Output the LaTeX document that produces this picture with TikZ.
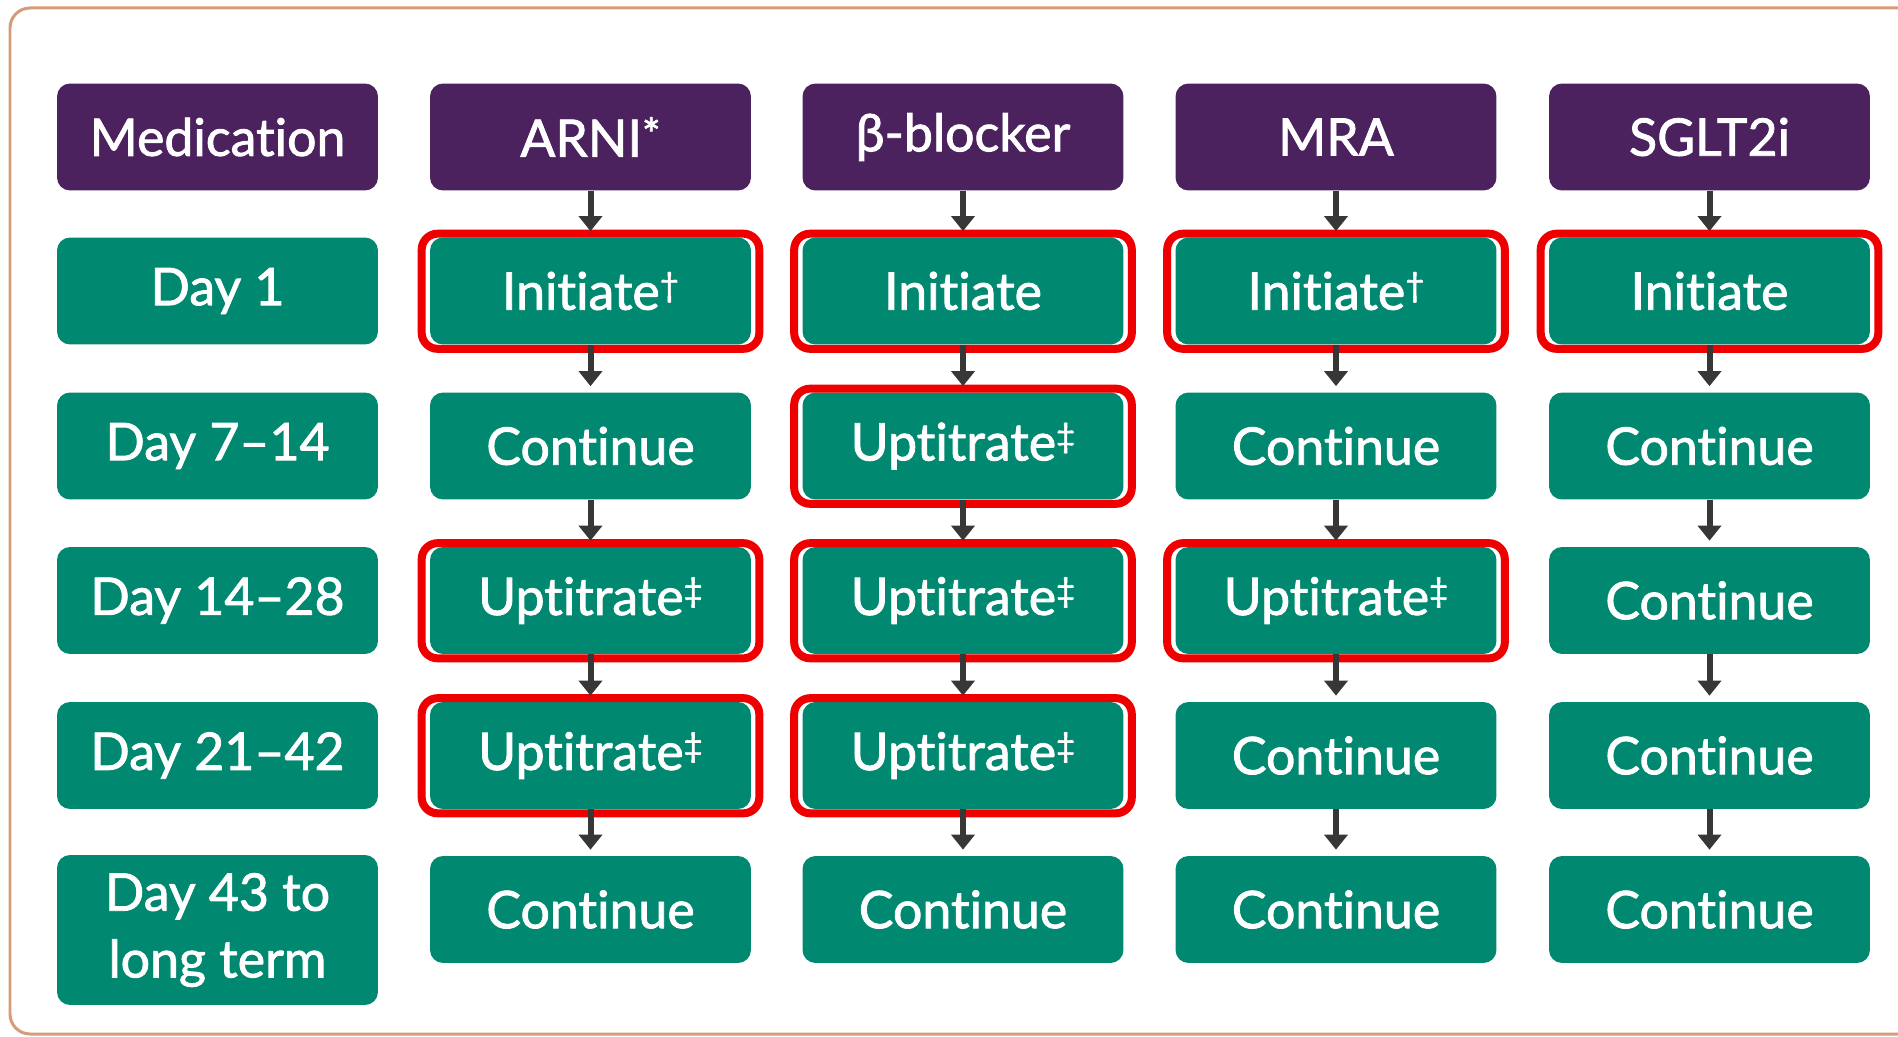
\documentclass[tikz,border=0pt]{standalone}
\usepackage{fontspec}
\setmainfont{Lato}
\newfontfamily\cellfont{Lato}[FakeBold=1.6, Ligatures=NoCommon]
\usetikzlibrary{arrows.meta,calc}
\definecolor{medpurple}{RGB}{75,33,94}
\definecolor{stepgreen}{RGB}{0,136,112}
\definecolor{hired}{RGB}{238,0,0}
\definecolor{framebrown}{RGB}{214,155,120}
\definecolor{arrowgray}{RGB}{55,55,55}
\newcommand\fnmark[1]{\raisebox{0.5ex}{\fontsize{19}{19}\selectfont#1}}
\newcommand\starmark{\raisebox{0.25ex}{\fontsize{25}{25}\selectfont*}}
\tikzset{%
  cell/.style     = {shape=rectangle, rounded corners=0.26cm, align=center,%
                     minimum width=6.42cm, minimum height=2.14cm, inner sep=0pt,%
                     text=white, font=\cellfont\fontsize{29.5}{38}\selectfont},%
  head/.style     = {cell, fill=medpurple},%
  stepcell/.style = {cell, fill=stepgreen},%
  flow/.style     = {draw=arrowgray, line width=0.12cm, shorten >=0.12cm,%
                     -{Triangle[width=0.46cm,length=0.3cm]}},%
  hilite/.style   = {draw=hired, line width=0.16cm, rounded corners=0.32cm}%
}
\begin{document}
\begin{tikzpicture}[x=0.02cm, y=-0.02cm]
	\useasboundingbox (0,0) rectangle (1898,1037);
	\begin{scope}
	\clip (0,0) rectangle (1898,1037);
	\draw[framebrown, line width=0.06cm, rounded corners=0.4cm]
		(10,8) rectangle (1930,1034);
	\end{scope}
	% header row
	\node[head] (lbl0)  at (217.5,137) {Medication};
	\node[head] (arni0) at (590.5,137) {ARNI\starmark};
	\node[head] (beta0) at (963,137)   {β-blocker};
	\node[head] (mra0)  at (1336,137)  {MRA};
	\node[head] (sglt0) at (1709.5,137) {SGLT2i};
	% day 1
	\node[stepcell] (lbl1)  at (217.5,291) {Day 1};
	\node[stepcell] (arni1) at (590.5,291) {Initiate\fnmark{†}};
	\node[stepcell] (beta1) at (963,291)   {Initiate};
	\node[stepcell] (mra1)  at (1336,291)  {Initiate\fnmark{†}};
	\node[stepcell] (sglt1) at (1709.5,291) {Initiate};
	% day 7--14
	\node[stepcell] (lbl2)  at (217.5,446) {Day 7–14};
	\node[stepcell] (arni2) at (590.5,446) {Continue};
	\node[stepcell] (beta2) at (963,446)   {Uptitrate\fnmark{‡}};
	\node[stepcell] (mra2)  at (1336,446)  {Continue};
	\node[stepcell] (sglt2) at (1709.5,446) {Continue};
	% day 14--28
	\node[stepcell] (lbl3)  at (217.5,600.5) {Day 14–28};
	\node[stepcell] (arni3) at (590.5,600.5) {Uptitrate\fnmark{‡}};
	\node[stepcell] (beta3) at (963,600.5)   {Uptitrate\fnmark{‡}};
	\node[stepcell] (mra3)  at (1336,600.5)  {Uptitrate\fnmark{‡}};
	\node[stepcell] (sglt3) at (1709.5,600.5) {Continue};
	% day 21--42
	\node[stepcell] (lbl4)  at (217.5,755.5) {Day 21–42};
	\node[stepcell] (arni4) at (590.5,755.5) {Uptitrate\fnmark{‡}};
	\node[stepcell] (beta4) at (963,755.5)   {Uptitrate\fnmark{‡}};
	\node[stepcell] (mra4)  at (1336,755.5)  {Continue};
	\node[stepcell] (sglt4) at (1709.5,755.5) {Continue};
	% day 43 on
	\node[stepcell, minimum height=3cm] (lbl5) at (217.5,930) {Day 43 to\\long term};
	\node[stepcell] (arni5) at (590.5,909.5) {Continue};
	\node[stepcell] (beta5) at (963,909.5)   {Continue};
	\node[stepcell] (mra5)  at (1336,909.5)  {Continue};
	\node[stepcell] (sglt5) at (1709.5,909.5) {Continue};
	% red marks
	\foreach \n in {arni1,beta1,mra1,sglt1,beta2,arni3,beta3,mra3,arni4,beta4}
		\draw[hilite] ($(\n.north west)+(-8,-3.5)$) rectangle ($(\n.south east)+(8,4)$);
	% arrows
	\foreach \c in {arni,beta,mra,sglt}
		\foreach \r in {0,...,4}{
			\pgfmathtruncatemacro\s{\r+1}
			\draw[flow] (\c\r.south) -- (\c\s.north);
		}
\end{tikzpicture}
\end{document}
